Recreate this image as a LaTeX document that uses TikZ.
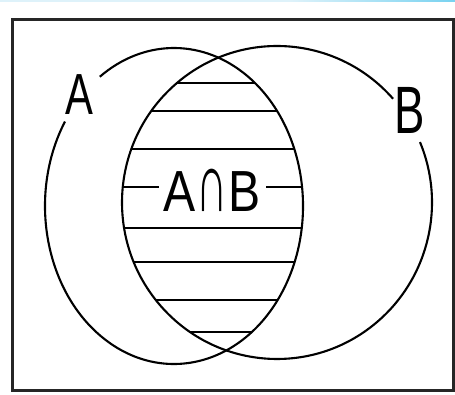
\documentclass[tikz,border=0pt]{standalone}
\usepackage{fontspec}
\usepackage{graphicx}
\setmainfont{Liberation Sans}
\definecolor{stripLight}{RGB}{222,242,250}
\definecolor{stripDeep}{RGB}{120,210,240}
\begin{document}
\begin{tikzpicture}[x=1pt,y=1pt,
  frame/.style={draw=black!85, line width=3pt},
  outline/.style={draw=black, line width=2.1pt},
  hatch/.style={draw=black, line width=2.6pt},
  setlabel/.style={inner sep=0pt, font=\fontsize{58}{60}\selectfont}]
\useasboundingbox (0,0) rectangle (455,395);

% thin coloured strip along the top edge
\fill[stripLight] (0,393) rectangle (290,395);
\shade[left color=stripLight, right color=stripDeep] (290,393) rectangle (455,395);

% universe rectangle
\draw[frame] (12.5,4.5) rectangle (453.5,375);

% horizontal hatching of the intersection A and B
\begin{scope}
  \clip (174,189) ellipse [x radius=129, y radius=158];
  \clip (277,192.5) ellipse [x radius=155, y radius=156.5];
  \foreach \yy in {312,284,246,208,167,133,95,63}
    \draw[hatch] (100,\yy) -- (350,\yy);
\end{scope}

% set A, open where its label sits
\draw[outline] (174,189) ++(147.7:129 and 158)
  arc[start angle=147.7, end angle=485.1, x radius=129, y radius=158];
% set B, open where its label sits
\draw[outline] (277,192.5) ++(41.5:155 and 156.5)
  arc[start angle=41.5, end angle=382.7, x radius=155, y radius=156.5];

% labels
\node[setlabel, anchor=base west] (labA) at (65,280) {\scalebox{0.72}[1]{A}};
\node[inner sep=0pt, font=\fontsize{67}{70}\selectfont, anchor=base west] (labB)
  at (394.5,261) {\scalebox{0.68}[1]{B}};
\node[setlabel, fill=white, inner xsep=5pt, inner ysep=1pt, anchor=base] (inter)
  at (212.5,183) {\scalebox{0.83}[1]{A\kern1pt\scalebox{0.9}[1.45]{∩}\kern1pt B}};
\end{tikzpicture}
\end{document}
